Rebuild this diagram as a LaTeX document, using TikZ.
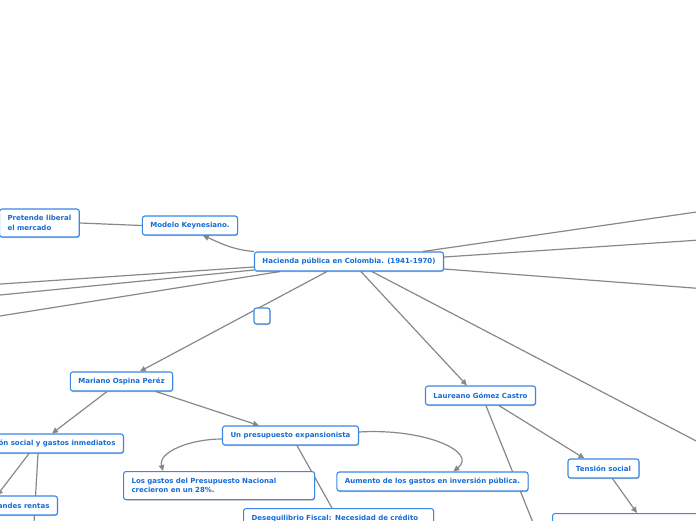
\documentclass[tikz,border=0pt]{standalone}
\usepackage{fontspec}
\setsansfont{DejaVu Sans}
\usetikzlibrary{arrows.meta,shadows}
\definecolor{boxblue}{RGB}{58,135,230}
\definecolor{txtblue}{RGB}{22,108,214}
\definecolor{linegray}{RGB}{136,136,136}
\pgfdeclarelayer{background}
\pgfsetlayers{background,main}
\tikzset{
  topic/.style={draw=boxblue, fill=white, line width=1.1pt, rounded corners=2.5pt,
    text=txtblue, font=\sffamily\bfseries\fontsize{7}{9.5}\selectfont,
    inner xsep=8pt, inner ysep=0pt, minimum height=19pt,
    drop shadow={shadow xshift=0.6pt, shadow yshift=-1pt, opacity=0.25, fill=black}},
  link/.style={draw=linegray, line width=1.2pt},
  arr/.style={link, -{Triangle[length=6pt,width=5.5pt]}}
}
\begin{document}
\begin{tikzpicture}[x=1pt,y=-1pt]
\useasboundingbox (0,0) rectangle (696,520);

% nodes
\node[topic] (main) at (349,261.5) {Hacienda pública en Colombia. (1941-1970)};
\node[topic] (keyn) at (190,225.5) {Modelo Keynesiano.};
\node[topic, align=left, minimum height=28pt, anchor=west] (pret) at (-1,223) {Pretende liberal\\el mercado};
\node[topic] (mar) at (121.5,381.5) {Mariano Ospina Peréz};
\node[topic, anchor=east] (soc) at (124,443.5) {ón social y gastos inmediatos};
\node[topic, anchor=east] (rent) at (58,505.5) {andes rentas};
\node[topic] (pres) at (290.5,435.5) {Un presupuesto expansionista};
\node[topic, anchor=north west, text width=175pt, align=left, minimum height=28pt] (gas) at (123,471) {Los gastos del Presupuesto Nacional\\crecieron en un 28\%.};
\node[topic] (aum) at (432.5,481.5) {Aumento de los gastos en inversión pública.};
\node[topic, anchor=north west, text width=174pt, align=left] (deseq) at (243,508) {Desequilibrio Fiscal: Necesidad de crédito};
\node[topic] (lau) at (480.5,395.5) {Laureano Gómez Castro};
\node[topic] (ten) at (603.5,468.5) {Tensión social};
\node[topic, anchor=north west, minimum width=170pt, minimum height=20pt] (bot) at (552,513) {};
\node[topic, minimum width=16pt, minimum height=16pt, inner xsep=0pt] (empty) at (262,316) {};

% free ends
\coordinate (L1) at (-2,284.2);
\coordinate (L2) at (-2,295.2);
\coordinate (L3) at (-2,316.3);
\coordinate (R1) at (700,211.5);
\coordinate (R2) at (700,240);
\coordinate (R3) at (700,288.5);
\coordinate (R4) at (700,443);
\coordinate (S2) at (33,540);
\coordinate (LB) at (538,535);

\begin{pgfonlayer}{background}
\draw[arr] (main.north west) .. controls (232,250) and (216,241) .. ([xshift=61pt]keyn.south west);
\draw[link] (pret.east) -- (keyn.west);
\draw[link] ([yshift=-5.5pt]main.west) -- (L1);
\draw[link] ([yshift=-8.5pt]main.west) -- (L2);
\draw[link] ([xshift=26pt]main.south west) -- (L3);
\draw[link] ([xshift=169pt]main.north west) -- (R1);
\draw[link] ([yshift=4.5pt]main.east) -- (R2);
\draw[link] ([yshift=-7.5pt]main.east) -- (R3);
\draw[link] ([xshift=118pt]main.south west) -- (R4);
\draw[arr] ([xshift=73pt]main.south west) -- ([xshift=70pt]mar.north west);
\draw[arr] ([xshift=-14.5pt]mar.south) -- ([xshift=-72pt]soc.north east);
\draw[arr] ([xshift=34.5pt]mar.south) -- ([xshift=37pt]pres.north west);
\draw[arr] ([xshift=-95pt]soc.south east) -- ([xshift=-61pt]rent.north east);
\draw[link] ([xshift=-86pt]soc.south east) -- (S2);
\draw[arr] ([yshift=-3.5pt]pres.west) .. controls (190,439) and (158,452) .. ([xshift=40pt]gas.north west);
\draw[arr] ([yshift=3.5pt]pres.east) .. controls (425,428) and (478,452) .. ([xshift=117pt]aum.north west);
\draw[link] ([xshift=75pt]pres.south west) -- ([xshift=89pt]deseq.north west);
\draw[arr] ([xshift=107pt]main.south west) -- ([xshift=42pt]lau.north west);
\draw[arr] ([xshift=74pt]lau.south west) -- ([xshift=17pt]ten.north west);
\draw[arr] ([xshift=45pt]ten.south west) -- ([xshift=85pt]bot.north west);
\draw[link] ([xshift=61pt]lau.south west) -- (LB);
\end{pgfonlayer}
\end{tikzpicture}
\end{document}
